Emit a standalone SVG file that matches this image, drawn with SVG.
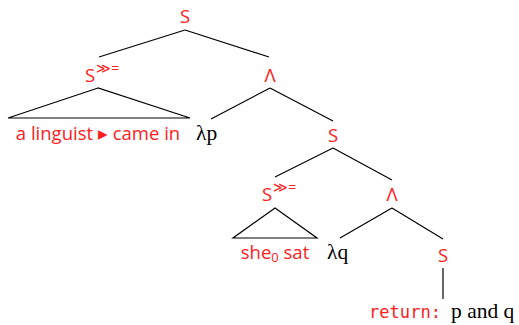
<svg xmlns="http://www.w3.org/2000/svg" width="519" height="325" viewBox="0 0 519 325">
<style>
.r{fill:#ff2020;font-family:"Open Sans","Noto Sans",sans-serif;font-size:18.5px;text-anchor:middle}
.sup{font-size:14px;text-anchor:start}
.k{fill:#000;font-family:"Liberation Serif","DejaVu Serif",serif;font-size:21.5px}
.m{fill:#ff2020;font-family:"DejaVu Sans Mono","Liberation Mono",monospace;font-size:17.5px}
.e{stroke:#000;stroke-width:1.2;fill:none}
</style>
<rect width="519" height="325" fill="#fff"/>
<g id="connectors">
<line class="e" x1="185" y1="30" x2="99" y2="57"/>
<line class="e" x1="185" y1="30" x2="269" y2="57"/>
<line class="e" x1="270" y1="88" x2="211" y2="119"/>
<line class="e" x1="270" y1="88" x2="333" y2="121"/>
<line class="e" x1="333" y1="148" x2="275" y2="177"/>
<line class="e" x1="333" y1="148" x2="392" y2="180"/>
<line class="e" x1="392" y1="208" x2="340" y2="238"/>
<line class="e" x1="392" y1="208" x2="443" y2="239"/>
<line class="e" x1="443" y1="268" x2="443" y2="299"/>
</g>
<g id="n-root"><text class="r" x="185" y="23">S</text></g>
<g id="n-sbind1"><text class="r" x="85" y="82" style="text-anchor:start">S<tspan class="sup" dy="-9" dx="1">≫=</tspan></text></g>
<g id="n-tri1"><polygon class="e" points="98,88 8,118 190,118"/><text class="r" x="98" y="140">a linguist ▸ came in</text></g>
<g id="n-and1"><text class="r" x="270" y="82">Λ</text></g>
<g id="n-lp"><text class="k" x="196" y="140">λp</text></g>
<g id="n-s2"><text class="r" x="333" y="142">S</text></g>
<g id="n-sbind2"><text class="r" x="262" y="201" style="text-anchor:start">S<tspan class="sup" dy="-9" dx="1">≫=</tspan></text></g>
<g id="n-and2"><text class="r" x="392" y="201">Λ</text></g>
<g id="n-tri2"><polygon class="e" points="275,208 233,238 317,238"/><text class="r" x="275" y="259">she<tspan font-size="13" dy="3">0</tspan><tspan dy="-3"> sat</tspan></text></g>
<g id="n-lq"><text class="k" x="327" y="259">λq</text></g>
<g id="n-s3"><text class="r" x="443" y="262">S</text></g>
<g id="n-ret"><text class="m" x="369" y="318" textLength="72" lengthAdjust="spacingAndGlyphs">return:</text><text class="k" x="451" y="318">p and q</text></g>
</svg>
